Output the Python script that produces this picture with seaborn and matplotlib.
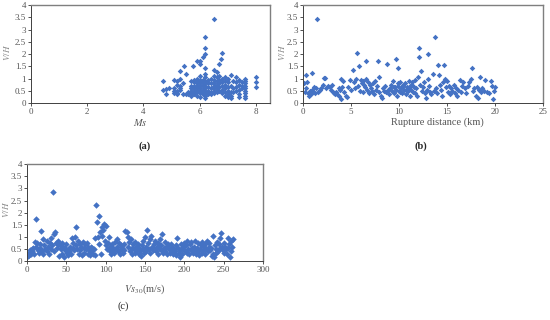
import numpy as np
import pandas as pd
import seaborn as sns
import matplotlib
matplotlib.use("Agg")
import matplotlib.pyplot as plt
from matplotlib.ticker import FuncFormatter

# ---- data ----
# (a) surface-wave magnitude vs V/H
ms_a = [4.7, 4.7, 4.8, 4.8, 4.9,
        5.1, 5.1, 5.1, 5.1, 5.2, 5.2, 5.2, 5.2, 5.2,
        5.3, 5.3, 5.3, 5.3, 5.3, 5.4, 5.4, 5.45, 5.5, 5.5,
        5.6, 5.6, 5.7, 5.7, 5.7, 5.7, 5.7, 5.7, 5.75,
        5.8, 5.8, 5.8, 5.8, 5.8, 5.8, 5.8,
        5.9, 5.9, 5.9, 5.9, 5.9, 5.9, 5.9, 5.9, 5.9,
        6.0, 6.0, 6.0, 6.0, 6.0, 6.0, 6.0, 6.0, 6.0, 6.0,
        6.1, 6.1, 6.1, 6.1, 6.1, 6.1, 6.1,
        6.2, 6.2, 6.2, 6.2, 6.2, 6.2, 6.2, 6.2, 6.2, 6.2, 6.2, 6.2, 6.2, 6.2,
        6.3, 6.3, 6.3, 6.3, 6.3, 6.4, 6.4, 6.4, 6.4, 6.4,
        6.5, 6.5, 6.5, 6.5, 6.5, 6.5, 6.5, 6.5, 6.5,
        6.6, 6.6, 6.6, 6.6, 6.6, 6.6, 6.6,
        6.7, 6.75, 6.7, 6.7, 6.7, 6.7, 6.7,
        6.8, 6.8, 6.8, 6.8, 6.8, 6.8,
        6.9, 6.9, 6.9, 6.9, 6.9, 6.9,
        7.0, 7.0, 7.0, 7.0, 7.0, 7.0,
        7.1, 7.1, 7.1, 7.1, 7.1, 7.2, 7.2, 7.2,
        7.3, 7.3, 7.3, 7.3, 7.4, 7.4, 7.4, 7.4, 7.4,
        7.5, 7.5, 7.5,
        7.6, 7.6, 7.6, 7.6, 7.6, 7.6, 7.6, 7.6, 7.6,
        8.0, 8.0, 8.0]
vh_a = [0.92, 0.55, 0.35, 0.58, 0.6,
        0.95, 0.6, 0.4, 0.5, 0.9, 0.75, 0.5, 0.4, 0.35,
        1.3, 1.0, 0.7, 0.6, 0.55, 0.35, 0.8, 1.53, 1.2, 0.35,
        0.35, 0.45, 0.9, 0.7, 0.6, 0.5, 0.4, 0.3, 1.53,
        0.95, 0.85, 0.7, 0.6, 0.5, 0.4, 0.35,
        1.7, 1.0, 0.9, 0.8, 0.7, 0.65, 0.55, 0.45, 0.3,
        1.6, 1.72, 1.1, 0.95, 0.85, 0.75, 0.6, 0.5, 0.4, 0.25,
        1.88, 0.95, 0.8, 0.7, 0.55, 0.45, 0.35,
        2.7, 2.25, 2.0, 1.45, 1.2, 1.05, 0.9, 0.8, 0.7, 0.6, 0.5, 0.4, 0.3, 0.2,
        0.95, 0.8, 0.65, 0.5, 0.35, 1.0, 0.8, 0.6, 0.45, 0.35,
        3.42, 1.35, 1.1, 0.95, 0.8, 0.7, 0.6, 0.5, 0.4,
        1.25, 1.05, 0.9, 0.75, 0.6, 0.5, 0.45,
        1.6, 1.79, 1.1, 0.95, 0.8, 0.65, 0.5,
        2.05, 1.0, 0.85, 0.7, 0.55, 0.4,
        1.05, 0.9, 0.75, 0.6, 0.45, 0.3,
        1.0, 0.85, 0.65, 0.5, 0.35, 0.25,
        1.15, 0.7, 0.45, 0.3, 0.2, 0.9, 0.6, 0.45,
        1.05, 0.85, 0.65, 0.5, 0.95, 0.75, 0.55, 0.35, 0.25,
        0.85, 0.7, 0.6,
        1.0, 0.9, 0.8, 0.7, 0.6, 0.5, 0.4, 0.3, 0.2,
        1.05, 0.85, 0.65]

# (b) rupture distance (km) vs V/H
rd_b = [0.1, 0.2, 0.3, 0.3, 0.4, 0.5, 0.6, 0.7, 0.8, 0.9, 0.9, 1.0, 1.1,
        1.2, 1.4, 1.5, 1.6, 1.8, 1.9,
        2.1, 2.2, 2.3, 2.4, 2.6, 2.8, 2.9,
        3.0, 3.1, 3.2, 3.3, 3.4, 3.5, 3.7, 3.8, 3.9, 3.95,
        4.0, 4.1, 4.2, 4.3, 4.5, 4.6, 4.7, 4.9, 5.0,
        5.2, 5.3, 5.4, 5.5, 5.6, 5.7, 5.8, 5.9, 6.0,
        6.1, 6.2, 6.3, 6.4, 6.5, 6.6, 6.6, 6.7, 6.8, 6.9,
        7.0, 7.1, 7.2, 7.3, 7.4, 7.5, 7.6, 7.7, 7.8, 7.9, 7.95,
        8.1, 8.2, 8.3, 8.4, 8.5, 8.6, 8.8, 8.9, 9.0,
        9.1, 9.2, 9.3, 9.4, 9.5, 9.6, 9.7, 9.7, 9.8, 9.9, 9.9, 10.0,
        10.1, 10.2, 10.3, 10.4, 10.5, 10.6, 10.7, 10.8, 10.9, 11.0,
        10.15, 10.45, 10.75, 11.05, 11.35, 11.65, 9.45, 9.85,
        11.1, 11.2, 11.3, 11.4, 11.5, 11.6, 11.7, 11.8, 11.9, 12.0,
        12.1, 12.1, 12.2, 12.3, 12.4, 12.5, 12.6, 12.7, 12.8, 12.9, 13.0, 13.0,
        13.1, 13.2, 13.3, 13.5, 13.6, 13.8, 13.9, 14.0,
        14.1, 14.2, 14.3, 14.4, 14.5, 14.6, 14.7, 14.8, 14.9,
        15.0, 15.1, 15.2, 15.3, 15.4, 15.5, 15.7, 15.8, 15.9,
        16.0, 16.2, 16.4, 16.5, 16.6, 16.7, 16.9,
        17.0, 17.2, 17.3, 17.5, 17.6, 17.7, 17.8, 18.0,
        18.1, 18.2, 18.3, 18.4, 18.5, 18.7, 18.9,
        19.0, 19.2, 19.4, 19.6, 19.7, 19.8, 19.9, 20.0]
vh_b = [0.8, 0.45, 1.15, 0.6, 0.85, 0.4, 0.3, 0.5, 0.35, 1.22, 0.55, 0.45, 0.65,
        0.4, 0.6, 3.42, 0.45, 0.55, 0.6,
        0.75, 1.02, 1.02, 0.6, 0.7, 0.65, 0.55,
        0.75, 0.45, 0.4, 0.35, 0.45, 0.35, 0.3, 0.6, 0.55, 0.15,
        1.0, 0.65, 0.9, 0.45, 0.3, 0.25, 0.65, 0.95, 0.55,
        1.35, 0.85, 0.6, 1.0, 2.05, 0.7, 1.5, 0.5, 0.95,
        0.8, 0.9, 0.45, 0.75, 0.65, 1.7, 1.0, 0.55, 0.85, 0.4,
        0.75, 0.6, 0.5, 0.8, 0.35, 0.9, 0.55, 0.7, 1.7, 1.05, 0.45,
        0.3, 0.2, 0.6, 0.5, 0.7, 0.45, 1.6, 0.55, 0.35,
        0.6, 0.75, 0.5, 0.9, 0.4, 0.65, 1.78, 0.55, 0.3, 1.43, 0.7, 0.5,
        0.85, 0.6, 0.4, 0.75, 0.55, 0.8, 0.35, 0.65, 0.5, 0.9,
        0.45, 0.7, 0.55, 0.6, 0.75, 0.4, 0.65, 0.8,
        0.3, 0.7, 0.55, 0.85, 0.45, 0.65, 0.95, 0.6, 0.3, 1.05,
        2.25, 1.88, 0.75, 1.3, 0.5, 0.65, 0.85, 0.4, 0.2, 0.55, 2.0, 1.0,
        0.7, 0.45, 0.35, 1.2, 0.5, 2.7, 0.6, 0.4,
        1.55, 1.15, 0.75, 0.55, 0.3, 0.85, 1.55, 1.0, 0.65,
        0.9, 0.45, 0.7, 0.35, 0.6, 0.5, 0.75, 0.4, 0.6,
        0.3, 0.55, 0.95, 0.45, 0.7, 0.85, 0.6,
        0.4, 0.7, 0.85, 1.0, 1.45, 0.5, 0.6, 0.3,
        0.65, 0.2, 0.55, 1.05, 0.45, 0.6, 0.5,
        0.95, 0.45, 0.4, 0.9, 0.7, 0.15, 0.5, 0.65]

# (c) Vs30 (m/s) vs V/H
vs_c = [1, 2, 3, 4, 5, 6, 7, 8, 9, 10,
        11, 12, 13, 14, 15, 16, 17, 18, 19, 20,
        21, 22, 23, 25, 26, 27, 28, 29, 30,
        31, 32, 33, 34, 35, 36, 37, 38, 39, 40,
        41, 42, 43, 44, 45, 46, 47, 48, 49, 50,
        51, 52, 53, 54, 55, 56, 57, 58, 59, 60,
        61, 62, 63, 64, 65, 66, 67, 68, 69, 70,
        71, 72, 73, 74, 75, 76, 77, 78, 79, 80,
        81, 82, 83, 84, 85, 86, 87, 88, 89, 90, 91,
        92, 93, 94, 95, 96, 97, 98, 99, 100, 100,
        102, 103, 104, 105, 106, 107, 108, 109, 110,
        111, 112, 113, 114, 115, 116, 117, 118, 119, 120,
        121, 122, 123, 124, 125, 127, 128, 129, 130,
        131, 132, 133, 134, 135, 136, 137, 138, 139, 140,
        141, 142, 143, 144, 145, 146, 147, 148, 149, 150,
        151, 152, 153, 154, 155, 156, 157, 158, 159, 160,
        161, 162, 163, 164, 165, 166, 167, 168, 169, 170,
        171, 172, 173, 174, 175, 176, 177, 178, 179, 180,
        181, 182, 183, 184, 185, 186, 187, 188, 189, 190,
        191, 192, 193, 194, 195, 196, 197, 198, 199, 200,
        201, 202, 203, 204, 205, 206, 207, 208, 209, 210,
        211, 212, 213, 214, 215, 216, 217, 218, 219, 220,
        221, 222, 223, 224, 225, 226, 227, 228, 229, 230,
        231, 232, 233, 234, 235, 236, 237, 238, 239, 240,
        241, 242, 243, 244, 245, 246, 247, 248, 249, 250,
        251, 252, 253, 254, 255, 256, 257, 258, 259, 260, 261, 262]
vh_c = [0.2, 0.35, 0.25, 0.45, 0.3, 0.5, 0.4, 0.55, 0.3, 0.8,
        1.72, 0.6, 0.75, 0.45, 0.35, 0.7, 0.55, 1.25, 0.4, 0.9,
        0.3, 0.65, 0.5, 0.85, 0.4, 0.6, 0.3, 0.75, 0.5,
        0.95, 0.65, 2.85, 1.1, 0.4, 1.2, 0.75, 0.55, 0.85, 0.7,
        0.2, 0.65, 0.5, 0.75, 0.3, 0.6, 0.15, 0.55, 0.45, 0.7,
        0.35, 0.25, 0.5, 0.4, 0.6, 0.3, 0.95, 0.55, 0.75, 0.45,
        1.0, 1.4, 0.65, 0.5, 0.85, 0.3, 0.7, 0.45, 0.6, 0.25,
        0.8, 0.55, 0.35, 0.7, 0.5, 0.75, 0.3, 0.6, 0.45, 0.25,
        0.6, 0.4, 0.55, 0.3, 0.5, 0.25, 0.95, 2.3, 1.6, 1.0, 0.7,
        1.85, 1.2, 0.3, 1.4, 1.05, 1.3, 1.55, 0.85, 1.45, 0.65,
        0.5, 0.75, 1.0, 0.4, 0.6, 0.3, 0.7, 0.45, 0.55,
        0.35, 0.8, 0.5, 0.6, 0.9, 0.4, 0.75, 0.3, 0.65, 0.5,
        0.55, 0.35, 0.7, 0.45, 1.25, 1.2, 0.6, 1.0, 0.8,
        0.4, 0.9, 0.55, 0.3, 0.7, 0.5, 0.8, 0.35, 0.6, 0.45,
        0.7, 0.3, 0.55, 0.4, 0.2, 0.65, 0.5, 0.85, 0.35, 1.0,
        0.6, 0.4, 1.3, 0.75, 0.5, 0.9, 0.35, 1.05, 0.6, 0.45,
        0.7, 0.5, 0.85, 0.4, 0.6, 0.3, 0.75, 0.55, 0.9, 0.45,
        0.65, 1.1, 0.35, 0.55, 0.8, 0.4, 0.6, 0.3, 0.7, 0.5,
        0.55, 0.35, 0.7, 0.45, 0.6, 0.3, 0.5, 0.4, 0.65, 0.25,
        0.95, 0.55, 0.35, 0.15, 0.45, 0.7, 0.3, 0.6, 0.5, 0.75,
        0.4, 0.65, 0.35, 0.85, 0.5, 0.3, 0.7, 0.45, 0.8, 0.55,
        0.35, 0.6, 0.45, 0.85, 0.3, 0.55, 0.4, 0.75, 0.25, 0.5,
        0.65, 0.35, 0.8, 0.45, 0.6, 0.3, 0.7, 0.5, 0.85, 0.4,
        0.6, 0.75, 0.45, 0.55, 0.2, 0.3, 1.05, 0.15, 0.65, 0.35,
        0.5, 0.8, 0.4, 0.7, 0.95, 0.55, 1.15, 0.6, 0.45, 0.75,
        0.35, 0.6, 0.5, 0.3, 0.95, 0.55, 0.7, 0.15, 0.4, 0.85, 0.6, 0.9]

df_a = pd.DataFrame({"x": ms_a, "vh": vh_a})
df_b = pd.DataFrame({"x": rd_b, "vh": vh_b})
df_c = pd.DataFrame({"x": vs_c, "vh": vh_c})

sns.set_style("ticks")
plt.rcParams['font.family'] = ['Liberation Serif', 'DejaVu Serif']
plt.rcParams['mathtext.fontset'] = 'stix'

blue = "#4472C4"
txt = "#555555"

fig = plt.figure(figsize=(5.5, 3.2), dpi=100)
ax_a = fig.add_axes([0.0564, 0.678, 0.4345, 0.306])
ax_b = fig.add_axes([0.551, 0.678, 0.436, 0.306])
ax_c = fig.add_axes([0.049, 0.184, 0.429, 0.303])

fmt = FuncFormatter(lambda v, p: ("%g" % v))

# ax, data, xlim, xticks, xlabel, marker size, ylabel pos, xlabel pos
panels = [
    (ax_a, df_a, (0, 8.5), np.arange(0, 9, 2), r"$Ms$", 8,
     (-0.078, 0.52), (0.456, -0.14)),
    (ax_b, df_b, (0, 25), np.arange(0, 26, 5), "Rupture distance (km)", 8,
     (-0.068, 0.52), (0.56, -0.15)),
    (ax_c, df_c, (0, 300), np.arange(0, 301, 50), r"$Vs_{30}$(m/s)", 11,
     (-0.066, 0.53), (0.5, -0.22)),
]
for ax, df, xl, xt, xlab, ms, ylp, xlp in panels:
    sns.scatterplot(data=df, x="x", y="vh", ax=ax, color=blue, marker="D",
                    s=ms, linewidth=0, legend=False)
    ax.set_xlim(*xl)
    ax.set_ylim(0, 4)
    ax.set_xticks(xt)
    ax.set_yticks(np.arange(0, 4.01, 0.5))
    ax.yaxis.set_major_formatter(fmt)
    ax.xaxis.set_major_formatter(fmt)
    ax.tick_params(labelsize=6.5, colors="#333333", length=2.5, width=0.6,
                   pad=1.0, labelcolor=txt)
    ax.set_xlabel(xlab, fontsize=7.5, color=txt)
    ax.set_ylabel(r"$V/H$", fontsize=6.5, color="#888888")
    ax.yaxis.set_label_coords(*ylp)
    ax.xaxis.set_label_coords(*xlp)
    for side in ["top", "right"]:
        ax.spines[side].set_color("#7f7f7f")
        ax.spines[side].set_linewidth(1.0)
    for side in ["left", "bottom"]:
        ax.spines[side].set_color("#404040")
        ax.spines[side].set_linewidth(0.7)

fig.text(145 / 550, 1 - 146 / 320, "(a)", fontsize=7.5, fontweight="bold",
         ha="center", va="center")
fig.text(421 / 550, 1 - 146 / 320, "(b)", fontsize=7.5, fontweight="bold",
         ha="center", va="center")
fig.text(123 / 550, 1 - 306 / 320, "(c)", fontsize=7.5,
         ha="center", va="center")

fig.savefig("out.png", dpi=100)
